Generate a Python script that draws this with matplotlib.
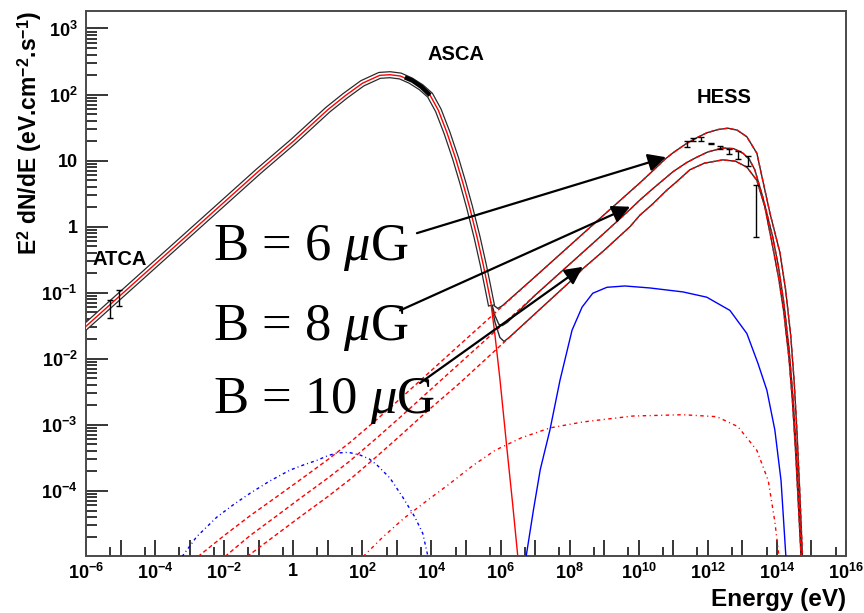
import numpy as np
import matplotlib
matplotlib.use("Agg")
import matplotlib.pyplot as plt
import matplotlib.patheffects as pe
from matplotlib.ticker import FixedLocator, FuncFormatter, NullFormatter

plt.rcParams['font.family'] = ['Liberation Sans', 'DejaVu Sans']
plt.rcParams['font.weight'] = 'bold'
plt.rcParams['mathtext.fontset'] = 'custom'
plt.rcParams['mathtext.bf'] = 'Liberation Sans:bold'
plt.rcParams['mathtext.rm'] = 'Liberation Serif:weight=normal'
plt.rcParams['mathtext.it'] = 'Liberation Serif:style=italic:weight=normal'

# ---- model curves, log10(E / eV) and log10(E^2 dN/dE) ----
# synchrotron
sync_logE = [-6.0, -5.0, -4.0, -3.0, -2.0, -1.0, 0.0, 1.0, 1.5, 2.0, 2.5, 2.8, 3.1, 3.4,
             3.7, 3.96, 4.2, 4.45, 4.7, 4.91, 5.1, 5.32, 5.5, 5.61, 5.72, 5.84, 5.98,
             6.19, 6.35, 6.5]
sync_logF = [-1.51, -1.04, -0.57, -0.10, 0.37, 0.84, 1.29, 1.77, 1.98, 2.17, 2.29, 2.30,
             2.28, 2.21, 2.11, 1.99, 1.76, 1.42, 1.03, 0.66, 0.30, -0.16, -0.58, -0.86,
             -1.15, -1.65, -2.30, -3.39, -4.2, -5.0]

# inverse Compton, B = 6, 8, 10 uG
ic6_logE = [-2.76, -2.0, -1.25, -0.5, 0.19, 1.0, 1.64, 2.4, 3.09, 3.87, 4.82, 5.9, 7.0,
            8.0, 9.0, 9.75, 10.03, 10.4, 10.76, 11.0, 11.39, 11.7, 11.97, 12.3, 12.58,
            12.85, 13.13, 13.42, 13.59, 13.8, 14.09, 14.25, 14.4, 14.5, 14.58, 14.66, 14.74]
ic6_logF = [-5.0, -4.68, -4.38, -4.10, -3.84, -3.53, -3.27, -2.93, -2.61, -2.24, -1.79,
            -1.28, -0.76, -0.29, 0.18, 0.53, 0.66, 0.84, 1.02, 1.12, 1.26, 1.35, 1.42,
            1.47, 1.49, 1.46, 1.36, 1.11, 0.70, 0.20, -0.40, -0.95, -1.65, -2.35, -3.1,
            -4.0, -5.0]

ic8_logE = [-1.98, -1.25, -0.5, 0.19, 1.0, 1.64, 2.4, 3.09, 3.87, 4.82, 5.9, 7.0, 8.0,
            9.0, 9.75, 10.03, 10.4, 10.99, 11.39, 11.68, 12.0, 12.43, 12.75, 13.02, 13.2,
            13.36, 13.59, 13.88, 14.05, 14.2, 14.35, 14.46, 14.55, 14.63, 14.71]
ic8_logF = [-5.0, -4.68, -4.39, -4.12, -3.81, -3.55, -3.21, -2.89, -2.52, -2.07, -1.56,
            -1.04, -0.57, -0.10, 0.26, 0.40, 0.57, 0.83, 0.97, 1.05, 1.13, 1.19, 1.18,
            1.11, 1.02, 0.86, 0.45, -0.16, -0.62, -1.15, -1.85, -2.55, -3.3, -4.1, -5.0]

ic10_logE = [-1.34, -0.5, 0.19, 1.0, 1.64, 2.4, 3.09, 3.87, 4.82, 5.9, 7.0, 8.0, 8.38,
             9.0, 9.75, 10.03, 10.4, 10.81, 11.1, 11.48, 11.9, 12.43, 12.8, 13.13, 13.42,
             13.65, 13.88, 14.05, 14.2, 14.35, 14.45, 14.54, 14.62, 14.70]
ic10_logF = [-5.0, -4.67, -4.40, -4.09, -3.83, -3.49, -3.17, -2.80, -2.37, -1.85, -1.32,
             -0.84, -0.64, -0.36, 0.0, 0.17, 0.34, 0.55, 0.68, 0.86, 0.96, 1.01, 0.99,
             0.90, 0.70, 0.30, -0.31, -0.78, -1.30, -2.0, -2.65, -3.4, -4.2, -5.0]

# total emission where synchrotron hands over to inverse Compton
dip6_logE = [5.61, 5.72, 5.82, 5.92, 6.05]
dip6_logF = [-0.86, -1.07, -1.20, -1.24, -1.20]
dip8_logE = [5.61, 5.72, 5.84, 5.95, 6.05, 6.2]
dip8_logF = [-0.86, -1.12, -1.35, -1.48, -1.50, -1.45]
dip10_logE = [5.61, 5.72, 5.84, 5.98, 6.1, 6.25]
dip10_logF = [-0.86, -1.13, -1.45, -1.68, -1.74, -1.68]

# pi0 decay
pi0_logE = [6.74, 6.95, 7.15, 7.43, 7.72, 8.07, 8.36, 8.67, 9.08, 9.60, 10.32, 11.28,
            11.97, 12.64, 13.13, 13.45, 13.71, 13.94, 14.12, 14.26]
pi0_logF = [-5.0, -4.30, -3.68, -3.08, -2.33, -1.57, -1.22, -1.01, -0.92, -0.90, -0.93,
            -0.99, -1.07, -1.27, -1.62, -2.07, -2.48, -3.08, -3.85, -5.0]

# secondary synchrotron (blue dash-dot)
sec_logE = [-3.22, -2.8, -2.21, -1.7, -1.25, -0.7, -0.10, 0.3, 0.69, 1.0, 1.26, 1.6,
            1.93, 2.2, 2.42, 2.8, 3.17, 3.52, 3.75, 3.90]
sec_logF = [-5.0, -4.70, -4.40, -4.20, -4.04, -3.86, -3.69, -3.61, -3.54, -3.47, -3.43,
            -3.42, -3.46, -3.52, -3.61, -3.81, -4.10, -4.40, -4.65, -5.0]

# bremsstrahlung (red dash-dot)
brem_logE = [2.02, 2.6, 3.2, 3.9, 4.54, 5.2, 5.84, 6.6, 7.43, 8.38, 9.83, 11.28, 12.26,
             12.87, 13.42, 13.75, 13.94, 14.06]
brem_logF = [-5.0, -4.70, -4.42, -4.14, -3.89, -3.62, -3.39, -3.20, -3.05, -2.96, -2.87,
             -2.85, -2.88, -3.03, -3.39, -3.85, -4.47, -5.0]

# ---- data points ----
atca_E = [5.1e-6, 9.1e-6]
atca_F = [0.0585, 0.0865]
atca_err = [0.0175, 0.0235]

asca_logE = [3.23, 3.45, 3.7, 3.96]
asca_logF = [2.26, 2.21, 2.12, 1.99]

hess_E = [2.45e11, 3.8e11, 6.3e11, 1.23e12, 2.24e12, 4.2e12, 7.6e12, 1.41e13, 2.45e13]
hess_F = [17.9, 20.9, 21.2, 18.2, 15.7, 13.9, 12.4, 10.0, 2.5]
hess_err = [2.1, 1.0, 1.2, 0.4, 0.9, 1.3, 1.7, 1.7, 1.8]

b_labels = [r'B = 6 $\mathit{\mu}$G', r'B = 8 $\mathit{\mu}$G', r'B = 10 $\mathit{\mu}$G']
b_text_y = [0.543, 0.396, 0.262]
# arrow tail / head in log10 data units
arrow_tail = [(3.58, -0.10), (3.09, -1.27), (3.67, -2.37)]
arrow_head = [(10.79, 1.05), (9.75, 0.30), (8.38, -0.61)]


def lg(v):
    return 10 ** np.asarray(v, dtype=float)


fig = plt.figure(figsize=(8.64, 6.13), dpi=100)
ax = fig.add_axes([86 / 864, 57 / 613, 760 / 864, 545 / 613])
ax.set_xscale('log')
ax.set_yscale('log')
ax.set_xlim(1e-6, 1e16)
ax.set_ylim(10 ** -4.99, 10 ** 3.265)

red_dash = (0, (3, 2))
blue_dashdot = (0, (2.2, 2.2, 0.7, 2.2))
red_dashdot = (0, (2.5, 2.5, 0.8, 2.5))

# totals: black lines through the dip and along the IC hump
for dE, dF, iE, iF in [(dip6_logE, dip6_logF, ic6_logE, ic6_logF),
                       (dip8_logE, dip8_logF, ic8_logE, ic8_logF),
                       (dip10_logE, dip10_logF, ic10_logE, ic10_logF)]:
    iE = np.asarray(iE)
    iF = np.asarray(iF)
    keep = iE > dE[-1] + 0.3
    tE = np.concatenate((dE, iE[keep]))
    tF = np.concatenate((dF, iF[keep]))
    ax.plot(lg(tE), lg(tF), color='#2a2a2a', lw=1.0, zorder=2)

# synchrotron: outlined where the three totals run alongside it
n_out = sync_logE.index(5.72) + 1
ax.plot(lg(sync_logE[:n_out]), lg(sync_logF[:n_out]), color='red', lw=1.0, zorder=3,
        path_effects=[pe.Stroke(linewidth=5.2, foreground='#2a2a2a'),
                      pe.Stroke(linewidth=3.4, foreground='white'), pe.Normal()])
ax.plot(lg(sync_logE[n_out - 1:]), lg(sync_logF[n_out - 1:]), color='red', lw=1.0, zorder=3)

for iE, iF in [(ic6_logE, ic6_logF), (ic8_logE, ic8_logF), (ic10_logE, ic10_logF)]:
    ax.plot(lg(iE), lg(iF), color='red', lw=1.0, ls=red_dash, zorder=4)

ax.plot(lg(pi0_logE), lg(pi0_logF), color='blue', lw=1.0, zorder=3)
ax.plot(lg(sec_logE), lg(sec_logF), color='blue', lw=1.0, ls=blue_dashdot, zorder=3)
ax.plot(lg(brem_logE), lg(brem_logF), color='red', lw=1.0, ls=red_dashdot, zorder=3)

# data
ax.errorbar(atca_E, atca_F, yerr=atca_err, fmt='none', ecolor='black', elinewidth=1.0,
            capsize=2.5, capthick=1.0, zorder=5)
ax.plot(lg(asca_logE), lg(asca_logF), color='black', lw=3.2, solid_capstyle='butt', zorder=5)
ax.errorbar(hess_E, hess_F, yerr=hess_err, fmt='none', ecolor='black', elinewidth=1.0,
            capsize=2.5, capthick=1.0, zorder=5)

ax.text(0.008, 0.534, 'ATCA', transform=ax.transAxes, fontsize=14.5, fontweight='bold')
ax.text(0.449, 0.910, 'ASCA', transform=ax.transAxes, fontsize=14.5, fontweight='bold')
ax.text(0.804, 0.831, 'HESS', transform=ax.transAxes, fontsize=14.5, fontweight='bold')

for lab, ty, tail, head in zip(b_labels, b_text_y, arrow_tail, arrow_head):
    ax.text(0.167, ty, lab, transform=ax.transAxes, fontsize=38, fontweight='normal',
            family='Liberation Serif', va='baseline', zorder=6)
    ax.annotate('', xy=(10 ** head[0], 10 ** head[1]), xytext=(10 ** tail[0], 10 ** tail[1]),
                arrowprops=dict(arrowstyle='-|>,head_length=0.6,head_width=0.3',
                                color='black', lw=1.6, mutation_scale=18,
                                shrinkA=0, shrinkB=0), zorder=6)


# ---- axes styling ----
def decade_label(v, pos, every=1):
    e = int(round(np.log10(v)))
    if e % every:
        return ''
    if e == 0:
        return '1'
    if e == 1:
        return '10'
    return r'$\mathbf{10^{%d}}$' % e


ax.xaxis.set_major_locator(FixedLocator(10.0 ** np.arange(-6, 17)))
ax.xaxis.set_minor_locator(FixedLocator(5 * 10.0 ** np.arange(-6, 16)))
ax.xaxis.set_major_formatter(FuncFormatter(lambda v, p: decade_label(v, p, 2)))
ax.xaxis.set_minor_formatter(NullFormatter())

ax.yaxis.set_major_locator(FixedLocator(10.0 ** np.arange(-4, 4)))
ax.yaxis.set_minor_locator(FixedLocator(
    [m * 10.0 ** k for k in range(-5, 4) for m in range(2, 10)]))
ax.yaxis.set_major_formatter(FuncFormatter(decade_label))
ax.yaxis.set_minor_formatter(NullFormatter())

ax.tick_params(which='both', direction='in', top=False, right=False, width=1.1,
               colors='black', labelsize=13)
ax.tick_params(axis='x', which='major', length=11.5, pad=5)
ax.tick_params(axis='x', which='minor', length=6.5)
ax.tick_params(axis='y', which='major', length=16, pad=6)
ax.tick_params(axis='y', which='minor', length=8)

for sp in ax.spines.values():
    sp.set_color('#4a4a4a')
    sp.set_linewidth(1.4)

ax.set_xlabel('Energy (eV)', fontsize=17.5, fontweight='bold', loc='right')
ax.xaxis.set_label_coords(1.0, -0.058)
ax.set_ylabel(r'E$^{\mathbf{2}}$ dN/dE (eV.cm$^{\mathbf{-2}}$.s$^{\mathbf{-1}}$)',
              fontsize=16.5, fontweight='bold', loc='top')
ax.yaxis.set_label_coords(-0.055, 1.0)

fig.savefig('out.png', dpi=100)
